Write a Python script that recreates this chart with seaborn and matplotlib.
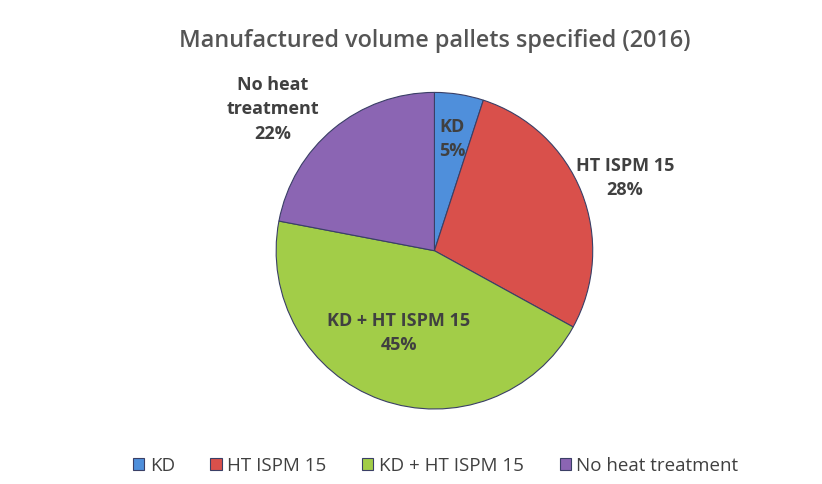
import numpy as np
import seaborn as sns
import matplotlib
matplotlib.use("Agg")
import matplotlib.pyplot as plt

# data
categories = ["KD", "HT ISPM 15", "KD + HT ISPM 15", "No heat treatment"]
slice_labels = ["KD", "HT ISPM 15", "KD + HT ISPM 15", "No heat\ntreatment"]
shares = [5, 28, 45, 22]
colors = ["#4F8FDB", "#D9504B", "#A2CD48", "#8B65B3"]

sns.set_theme(style="white")
plt.rcParams["font.family"] = ["Open Sans", "DejaVu Sans"]

fig = plt.figure(figsize=(8.22, 4.85), dpi=100)
ax = fig.add_axes([0.334, 0.151, 0.389, 0.66])

wedges, _ = ax.pie(shares, colors=sns.color_palette(colors), startangle=90,
                   counterclock=False, radius=1,
                   wedgeprops=dict(edgecolor="#3A3F66", linewidth=0.8))
ax.set_aspect("equal")
ax.set_xlim(-1.01, 1.01)
ax.set_ylim(-1.01, 1.01)

# label placement: distance from centre and small angle nudge per slice
dists = [0.72, 1.29, 0.56, 1.36]
nudges = [0, -0.5, -4, 9]
for w, lab, v, d, n in zip(wedges, slice_labels, shares, dists, nudges):
    ang = np.deg2rad((w.theta1 + w.theta2) / 2 + n)
    ax.text(d * np.cos(ang), d * np.sin(ang), f"{lab}\n{v}%",
            ha="center", va="center", fontsize=13, fontweight="bold",
            color="#404040", linespacing=1.45)

fig.suptitle("Manufactured volume pallets specified (2016)", x=0.529, y=0.94,
             fontsize=16.8, fontweight="semibold", color="#555555")

fig.legend(wedges, categories, loc="lower center", ncol=4,
           bbox_to_anchor=(0.53, -0.015), frameon=False, fontsize=13.5,
           handlelength=0.6, handleheight=0.6, handletextpad=0.3,
           columnspacing=1.9, labelcolor="#404040")

fig.savefig("out.png", dpi=100)
